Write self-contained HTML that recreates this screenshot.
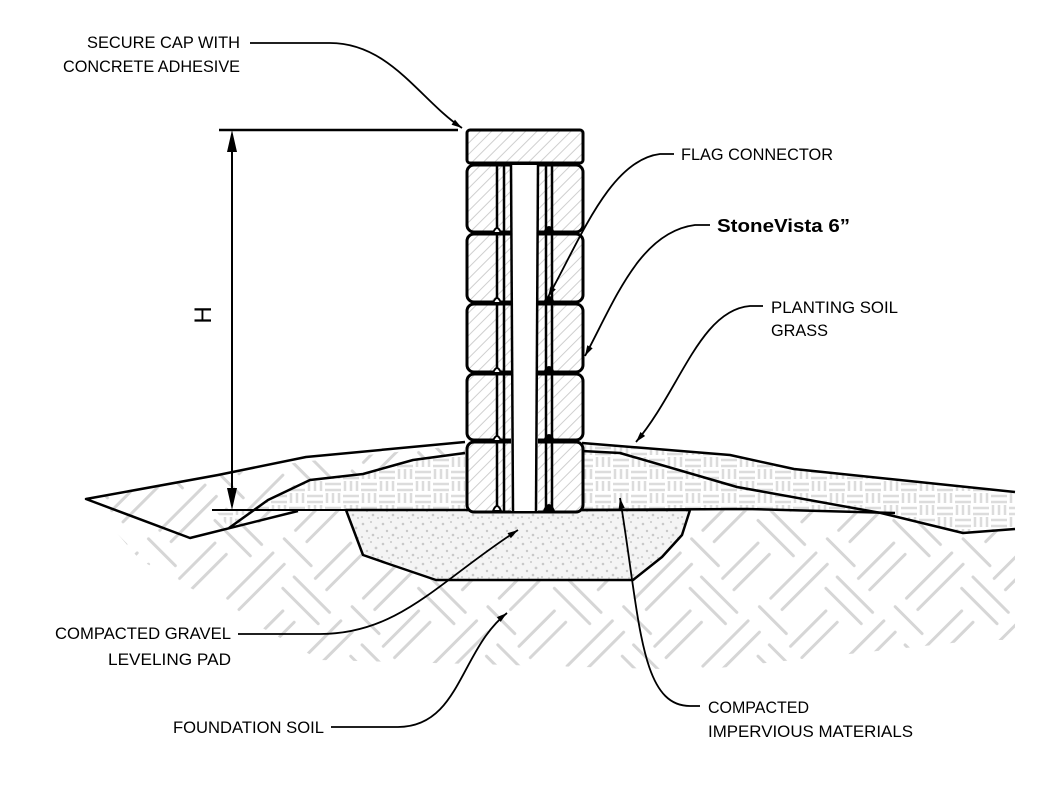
<!DOCTYPE html>
<html><head><meta charset="utf-8"><style>
html,body{margin:0;padding:0;background:#fff;}
svg{display:block;}
text{font-family:"Liberation Sans",sans-serif;fill:#000;}
</style></head><body>
<svg width="1052" height="804" viewBox="0 0 1052 804" xmlns="http://www.w3.org/2000/svg">
<defs>
<pattern id="diag" width="8" height="8" patternUnits="userSpaceOnUse" patternTransform="rotate(45)">
<rect width="8" height="8" fill="#fff"/><line x1="0" y1="0" x2="0" y2="8" stroke="#cfcfcf" stroke-width="2"/></pattern>
<pattern id="herr" width="96" height="96" patternUnits="userSpaceOnUse" patternTransform="rotate(45)">
<rect width="96" height="96" fill="#fff"/>
<g stroke="#d6d6d6" stroke-width="3" stroke-linecap="round">
<line x1="8" y1="6" x2="8" y2="70"/><line x1="24" y1="6" x2="24" y2="70"/>
<line x1="40" y1="8" x2="90" y2="8"/><line x1="40" y1="24" x2="90" y2="24"/>
<line x1="56" y1="40" x2="56" y2="90"/><line x1="72" y1="40" x2="72" y2="90"/>
<line x1="6" y1="84" x2="44" y2="84"/></g></pattern>
<pattern id="weave" width="36" height="24" patternUnits="userSpaceOnUse">
<rect width="36" height="24" fill="#fff"/>
<g stroke="#dcdcdc" stroke-width="2.5">
<line x1="1" y1="4" x2="17" y2="4"/><line x1="1" y1="10" x2="17" y2="10"/>
<line x1="21" y1="1" x2="21" y2="11"/><line x1="27" y1="1" x2="27" y2="11"/><line x1="33" y1="1" x2="33" y2="11"/>
<line x1="19" y1="16" x2="35" y2="16"/><line x1="19" y1="22" x2="35" y2="22"/>
<line x1="3" y1="13" x2="3" y2="23"/><line x1="9" y1="13" x2="9" y2="23"/><line x1="15" y1="13" x2="15" y2="23"/></g></pattern>
<pattern id="grav" width="20" height="20" patternUnits="userSpaceOnUse">
<rect width="20" height="20" fill="#f4f4f4"/>
<g fill="#c8c8c8"><circle cx="3" cy="4" r="1.3"/><circle cx="11" cy="2" r="1"/><circle cx="16" cy="8" r="1.4"/><circle cx="7" cy="11" r="1.2"/><circle cx="2" cy="17" r="1"/><circle cx="13" cy="15" r="1.3"/><circle cx="18" cy="18" r="1"/><circle cx="9" cy="18" r="0.9"/></g></pattern>
<marker id="ar" viewBox="0 0 12 8" refX="12" refY="4" markerWidth="14" markerHeight="7" orient="auto" markerUnits="userSpaceOnUse"><path d="M0,0.5 L12,4 L0,7.5 Z" fill="#000"/></marker>
</defs>

<!-- soil -->
<polygon points="87,498 300,462 465,445 465,512 690,510 900,513 1015,529 1015,640 980,640 700,670 320,660 140,560" fill="url(#herr)"/>
<!-- compacted fill left -->
<polygon points="229,528 268,500 310,480 363,474 413,460 465,453 465,510 215,510" fill="url(#weave)"/>
<!-- compacted fill right -->
<polygon points="582,451 620,453 737,487 881,513 963,533 1015,529 1015,492 794,469 730,455 582,443" fill="url(#weave)"/>
<polygon points="582,451 620,453 737,487 881,513 747,509 582,510" fill="url(#weave)"/>
<!-- gravel -->
<polygon points="346,510 690,510 682,535 662,557 633,580 436,580 386,563 363,555" fill="url(#grav)" stroke="#000" stroke-width="2.5" stroke-linejoin="round"/>

<g fill="none" stroke="#000" stroke-width="2.5" stroke-linejoin="round">
<polyline points="465,442 306,457 218,475 86,499 190,538 298,511"/>
<polyline points="229,528 268,500 310,480 363,474 413,460 465,453"/>
<line x1="212" y1="510" x2="467" y2="510" stroke-width="2"/>
<polyline points="582,443 730,455 794,469 1015,492"/>
<polyline points="582,451 620,453 737,487 881,513 963,533 1015,529"/>
<polyline points="582,510 747,509 895,513"/>
</g>

<!-- wall -->
<g stroke="#000" stroke-width="3">
<rect x="467" y="130" width="116" height="33" rx="3" fill="url(#diag)"/>
<rect x="467" y="165" width="116" height="67" rx="7" fill="url(#diag)"/>
<rect x="467" y="234" width="116" height="68" rx="7" fill="url(#diag)"/>
<rect x="467" y="304" width="116" height="68" rx="7" fill="url(#diag)"/>
<rect x="467" y="374" width="116" height="66" rx="7" fill="url(#diag)"/>
<rect x="467" y="442" width="116" height="70" rx="7" fill="url(#diag)"/>
</g>
<rect x="511" y="165" width="27" height="346" fill="#fff"/>
<g stroke="#000" fill="none">
<line x1="497" y1="165" x2="497" y2="511" stroke-width="2.5"/>
<line x1="504" y1="165" x2="504" y2="511" stroke-width="2.5"/>
<line x1="511" y1="165" x2="513" y2="511" stroke-width="2.5"/>
<line x1="538" y1="165" x2="536" y2="511" stroke-width="2.5"/>
<line x1="546" y1="165" x2="546" y2="511" stroke-width="2.5"/>
<line x1="552" y1="165" x2="552" y2="511" stroke-width="2.5"/>
</g>
<g fill="#fff" stroke="#000" stroke-width="2">
<path d="M493,233 q4,-10 8,0 z"/><path d="M493,303 q4,-10 8,0 z"/><path d="M493,373 q4,-10 8,0 z"/><path d="M493,441 q4,-10 8,0 z"/><path d="M493,511 q4,-10 8,0 z"/>
</g>
<g fill="#000" stroke="#000" stroke-width="2">
<path d="M544,233 q5,-12 10,0 z"/><path d="M544,303 q5,-12 10,0 z"/><path d="M544,373 q5,-12 10,0 z"/><path d="M544,441 q5,-12 10,0 z"/><path d="M544,511 q5,-12 10,0 z"/>
</g>

<!-- dimension -->
<g stroke="#000" stroke-width="2.5" fill="none">
<line x1="219" y1="130" x2="458" y2="130"/>
<line x1="219" y1="510" x2="300" y2="510" stroke-width="2"/>
<line x1="232" y1="134" x2="232" y2="506" stroke-width="2"/>
</g>
<path d="M232,130 l-5,22 h10 z M232,510 l-5,-22 h10 z" fill="#000"/>
<text transform="translate(211,315) rotate(-90)" text-anchor="middle" style="font-size:24px">H</text>

<!-- leaders -->
<g stroke="#000" stroke-width="1.8" fill="none">
<path d="M250,43 H330 C390,43 420,100 462,128" marker-end="url(#ar)"/>
<path d="M674,154 H660 C610,160 580,240 548,297" marker-end="url(#ar)"/>
<path d="M710,225 H695 C640,232 615,300 585,356" marker-end="url(#ar)"/>
<path d="M763,306 H750 C700,310 680,390 636,442" marker-end="url(#ar)"/>
<path d="M238,634 H320 C400,634 440,580 518,530" marker-end="url(#ar)"/>
<path d="M331,727 H398 C460,727 460,650 507,613" marker-end="url(#ar)"/>
<path d="M700,706 H690 C640,706 640,620 620,498" marker-end="url(#ar)"/>
</g>

<!-- labels -->
<g style="font-size:17px">
<text x="240" y="48" text-anchor="end" textLength="153" lengthAdjust="spacingAndGlyphs">SECURE CAP WITH</text>
<text x="240" y="72" text-anchor="end" textLength="177" lengthAdjust="spacingAndGlyphs">CONCRETE ADHESIVE</text>
<text x="681" y="160" textLength="152" lengthAdjust="spacingAndGlyphs">FLAG CONNECTOR</text>
<text x="717" y="232" style="font-weight:bold;font-size:18px" textLength="133" lengthAdjust="spacingAndGlyphs">StoneVista 6”</text>
<text x="771" y="313" textLength="127" lengthAdjust="spacingAndGlyphs">PLANTING SOIL</text>
<text x="771" y="336" textLength="57" lengthAdjust="spacingAndGlyphs">GRASS</text>
<text x="231" y="639" text-anchor="end" textLength="176" lengthAdjust="spacingAndGlyphs">COMPACTED GRAVEL</text>
<text x="231" y="665" text-anchor="end" textLength="123" lengthAdjust="spacingAndGlyphs">LEVELING PAD</text>
<text x="324" y="733" text-anchor="end" textLength="151" lengthAdjust="spacingAndGlyphs">FOUNDATION SOIL</text>
<text x="708" y="713" textLength="101" lengthAdjust="spacingAndGlyphs">COMPACTED</text>
<text x="708" y="737" textLength="205" lengthAdjust="spacingAndGlyphs">IMPERVIOUS MATERIALS</text>
</g>
</svg>
</body></html>
